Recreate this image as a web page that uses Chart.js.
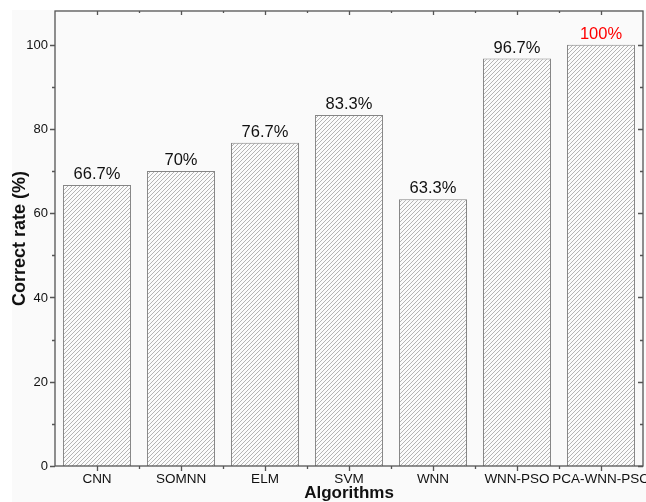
<!DOCTYPE html>
<html>
<head>
<meta charset="utf-8">
<script src="https://cdn.jsdelivr.net/npm/chart.js@4.4.1/dist/chart.umd.min.js"></script>
<style>
  html, body { margin: 0; padding: 0; background: #ffffff; overflow: hidden; }
  #wrap { position: absolute; left: 12px; top: 10px; width: 634px; height: 492px; background: #fafafa; }
  canvas { display: block; }
</style>
</head>
<body>
<div id="wrap"><canvas id="c" width="634" height="492"></canvas></div>
<script>
// Classification accuracy of each algorithm
const categories = ['CNN', 'SOMNN', 'ELM', 'SVM', 'WNN', 'WNN-PSO', 'PCA-WNN-PSO'];
const correctRate = [66.7, 70, 76.7, 83.3, 63.3, 96.7, 100];
const rateLabels = ['66.7%', '70%', '76.7%', '83.3%', '63.3%', '96.7%', '100%'];
const labelColors = ['#111', '#111', '#111', '#111', '#111', '#111', '#ff0000'];
const yTicks = [0, 20, 40, 60, 80, 100];

const FONT = '"Liberation Sans", Arial, Helvetica, sans-serif';

// Diagonal hatch fill for the bars
function makeHatch() {
  const s = 4;
  const c = document.createElement('canvas');
  c.width = s; c.height = s;
  const g = c.getContext('2d');
  g.fillStyle = '#fbfbfb';
  g.fillRect(0, 0, s, s);
  g.strokeStyle = '#a6a6a6';
  g.lineWidth = 0.85;
  g.beginPath();
  g.moveTo(-1, s + 1); g.lineTo(s + 1, -1);
  g.moveTo(-1, 1); g.lineTo(1, -1);
  g.moveTo(s - 1, s + 1); g.lineTo(s + 1, s - 1);
  g.stroke();
  return g.createPattern(c, 'repeat');
}

// Frame, ticks, tick labels, axis titles and value labels
const framePlugin = {
  id: 'frame',
  afterDatasetsDraw(chart) {
    const { ctx, chartArea: a, scales } = chart;
    const x = scales.x, y = scales.y;
    ctx.save();
    ctx.strokeStyle = '#555555';
    ctx.lineWidth = 1.3;
    ctx.strokeRect(a.left, a.top, a.right - a.left, a.bottom - a.top);
    ctx.beginPath();
    for (let v = 0; v <= 100; v += 10) {
      const py = Math.round(y.getPixelForValue(v)) + 0.5;
      const L = v % 20 === 0 ? 5 : 3;
      ctx.moveTo(a.left - L, py); ctx.lineTo(a.left, py);
      ctx.moveTo(a.right, py); ctx.lineTo(a.right - L, py);
    }
    const step = (a.right - a.left) / categories.length;
    for (let i = 0; i < categories.length; i++) {
      const px = Math.round(x.getPixelForValue(i)) + 0.5;
      ctx.moveTo(px, a.bottom); ctx.lineTo(px, a.bottom + 5);
      ctx.moveTo(px, a.top); ctx.lineTo(px, a.top + 4);
      if (i > 0) {
        const mx = Math.round(a.left + step * i) + 0.5;
        ctx.moveTo(mx, a.bottom); ctx.lineTo(mx, a.bottom + 3);
        ctx.moveTo(mx, a.top); ctx.lineTo(mx, a.top + 2);
      }
    }
    ctx.stroke();

    ctx.fillStyle = '#111';
    // y tick labels
    ctx.font = '13px ' + FONT;
    ctx.textAlign = 'right';
    ctx.textBaseline = 'middle';
    yTicks.forEach(v => ctx.fillText(String(v), a.left - 7, y.getPixelForValue(v) + 0.5));
    // x tick labels
    ctx.textAlign = 'center';
    ctx.textBaseline = 'alphabetic';
    ctx.font = '13.5px ' + FONT;
    categories.forEach((c, i) => ctx.fillText(c, x.getPixelForValue(i), a.bottom + 17));
    // axis titles
    ctx.font = 'bold 17px ' + FONT;
    ctx.fillText('Algorithms', (a.left + a.right) / 2, a.bottom + 32);
    ctx.save();
    ctx.translate(8, (a.top + a.bottom) / 2);
    ctx.rotate(-Math.PI / 2);
    ctx.font = 'bold 18px ' + FONT;
    ctx.textBaseline = 'middle';
    ctx.fillText('Correct rate (%)', 0, 0);
    ctx.restore();

    // value labels above bars
    const meta = chart.getDatasetMeta(0);
    ctx.font = '16.5px ' + FONT;
    ctx.textAlign = 'center';
    ctx.textBaseline = 'alphabetic';
    meta.data.forEach((bar, i) => {
      ctx.fillStyle = labelColors[i];
      ctx.fillText(rateLabels[i], bar.x, bar.y - 6);
    });
    ctx.restore();
  }
};

new Chart(document.getElementById('c'), {
  type: 'bar',
  data: {
    labels: categories,
    datasets: [{
      data: correctRate,
      backgroundColor: makeHatch(),
      borderColor: '#858585',
      borderWidth: 1,
      barPercentage: 0.81,
      categoryPercentage: 1.0
    }]
  },
  options: {
    responsive: false,
    animation: false,
    layout: { padding: { left: 43, right: 3, top: 1, bottom: 36 } },
    plugins: { legend: { display: false }, tooltip: { enabled: false } },
    scales: {
      x: { display: false },
      y: {
        display: false,
        min: 0, max: 108,
        afterBuildTicks(scale) { scale.ticks = yTicks.map(v => ({ value: v })); }
      }
    }
  },
  plugins: [framePlugin]
});
</script>
</body>
</html>
